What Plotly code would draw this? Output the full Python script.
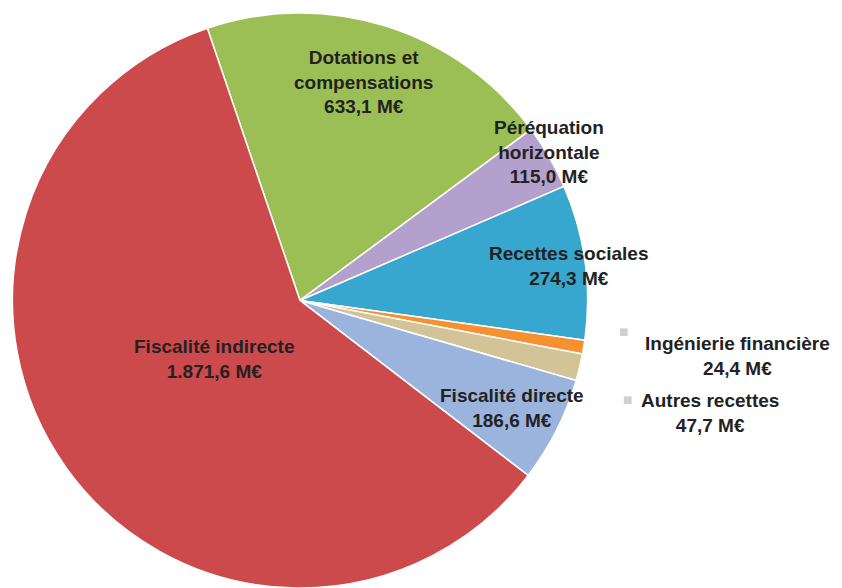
import plotly.graph_objects as go

categories = ["Dotations et compensations", "Péréquation horizontale", "Recettes sociales",
              "Ingénierie financière", "Autres recettes", "Fiscalité directe", "Fiscalité indirecte"]
values = [633.1, 115.0, 274.3, 24.4, 47.7, 186.6, 1871.6]
colors = ["#9CBF55", "#B4A0CC", "#37A7CF", "#F7902F", "#D2C497", "#9AB4DE", "#CD4A4C"]
label_text = ["Dotations et<br>compensations<br>633,1 M€", "Péréquation<br>horizontale<br>115,0 M€",
              "Recettes sociales<br>274,3 M€", "Ingénierie financière<br>24,4 M€",
              "Autres recettes<br>47,7 M€", "Fiscalité directe<br>186,6 M€",
              "Fiscalité indirecte<br>1.871,6 M€"]
# label centres in pixels (layout only)
label_pos = [(363, 82), (549, 152), (569, 266), (737, 356), (710, 413), (512, 408), (214, 359)]

W, H = 842, 588

fig = go.Figure(go.Pie(
    labels=categories, values=values, sort=False, direction="clockwise", rotation=-18.8,
    marker=dict(colors=colors, line=dict(color="white", width=1.5)),
    textinfo="none", hoverinfo="label+value",
    domain=dict(x=[11 / W, 589 / W], y=[0, 0.978]),
))

ann = []
for t, (px, py) in zip(label_text, label_pos):
    ann.append(dict(text="<b>" + t + "</b>", x=px / W, y=1 - py / H, xref="paper", yref="paper",
                    xanchor="center", yanchor="middle", showarrow=False,
                    font=dict(family="Liberation Sans, Arial", size=19, color="#222222")))
for bx, by in [(623, 331), (627, 399)]:
    ann.append(dict(text="■", x=bx / W, y=1 - by / H, xref="paper", yref="paper",
                    xanchor="center", yanchor="middle", showarrow=False,
                    font=dict(family="DejaVu Sans", size=10, color="#D0D0D0")))

fig.update_layout(width=W, height=H, margin=dict(l=0, r=0, t=0, b=0),
                  paper_bgcolor="white", plot_bgcolor="white", showlegend=False,
                  annotations=ann)
fig.write_html("out.html")
